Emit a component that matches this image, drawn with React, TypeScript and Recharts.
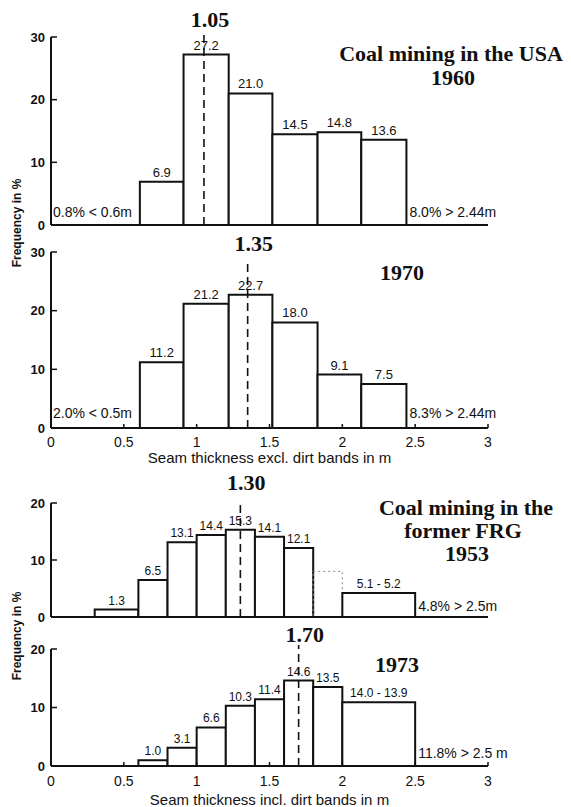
import React from 'react';
import { ComposedChart, Line, XAxis, YAxis, ReferenceArea, ReferenceLine, ReferenceDot } from 'recharts';

const xTicks = [0, 0.5, 1, 1.5, 2, 2.5, 3];
const yTicks30 = [0, 10, 20, 30];
const yTicks20 = [0, 10, 20];

// USA classes are whole feet (2 ft ... 8 ft) shown in metres
const usaEdges = [0.61, 0.91, 1.22, 1.52, 1.83, 2.13, 2.44];
const usa1960Values = [6.9, 27.2, 21.0, 14.5, 14.8, 13.6];
const usa1970Values = [11.2, 21.2, 22.7, 18.0, 9.1, 7.5];

const frg1953Edges = [0.3, 0.6, 0.8, 1.0, 1.2, 1.4, 1.6, 1.8, 2.0, 2.5];
const frg1953Values = [1.3, 6.5, 13.1, 14.4, 15.3, 14.1, 12.1, 8.0, 4.2];
const frg1953Labels = ['1.3', '6.5', '13.1', '14.4', '15.3', '14.1', '12.1', '', '5.1 - 5.2'];
const frg1953Dotted = [false, false, false, false, false, false, false, true, false];

const frg1973Edges = [0.6, 0.8, 1.0, 1.2, 1.4, 1.6, 1.8, 2.0, 2.5];
const frg1973Values = [1.0, 3.1, 6.6, 10.3, 11.4, 14.6, 13.5, 10.9];
const frg1973Labels = ['1.0', '3.1', '6.6', '10.3', '11.4', '14.6', '13.5', '14.0 - 13.9'];

const means = [1.05, 1.35, 1.3, 1.7];
const meanLabels = ['1.05', '1.35', '1.30', '1.70'];

const INK = '#111';
const SANS = '"Liberation Sans", Arial, sans-serif';
const SERIF = '"Liberation Serif", "Times New Roman", serif';

type PanelProps = {
  top: number;
  height: number;
  marginTop: number;
  xAxisHeight: number;
  edges: number[];
  values: number[];
  labels: string[];
  dotted?: boolean[];
  yMax: number;
  yTicks: number[];
  mean: number;
  meanLabel: string;
  meanTop: number;
  meanOffset: number;
  leftNote?: string;
  rightNote: string;
  rightNoteX: number;
  noteY: number;
  barFont: number;
  xTitle?: string;
  tickMargin: number;
  titleOffset: number;
};

const Panel = (p: PanelProps) => {
  // bin midpoints, only used so the chart has data to build its axes from
  const bins = p.values.map((v, i) => ({ x: (p.edges[i] + p.edges[i + 1]) / 2, y: v }));
  const isDotted = (i: number) => !!(p.dotted && p.dotted[i]);
  return (
    <div style={{ position: 'absolute', left: 0, top: p.top }}>
      <ComposedChart width={571} height={p.height} data={bins} margin={{ top: p.marginTop, right: 83, bottom: 0, left: 21 }}>
        <XAxis
          type="number"
          dataKey="x"
          domain={[0, 3]}
          ticks={xTicks}
          height={p.xAxisHeight}
          axisLine={{ stroke: INK, strokeWidth: 2 }}
          tickLine={{ stroke: INK, strokeWidth: 1.5 }}
          tickSize={-4}
          tickMargin={p.tickMargin}
          tick={p.xTitle ? { fontSize: 14, fill: INK, fontFamily: SANS } : false}
          label={p.xTitle ? { value: p.xTitle, position: 'insideBottom', offset: p.titleOffset, fontSize: 15, fill: INK, fontFamily: SANS } : undefined}
        />
        <YAxis
          type="number"
          domain={[0, p.yMax]}
          ticks={p.yTicks}
          width={30}
          axisLine={{ stroke: INK, strokeWidth: 2 }}
          tickLine={{ stroke: INK, strokeWidth: 1.5 }}
          tickSize={-6}
          tickMargin={12}
          tick={{ fontSize: 13, fill: INK, fontFamily: SANS, fontWeight: 'bold' }}
        />
        <Line dataKey="y" stroke="none" dot={false} activeDot={false} legendType="none" isAnimationActive={false} />
        {p.values.map((v, i) => (
          <ReferenceArea
            key={`bar-${i}`}
            x1={p.edges[i]}
            x2={p.edges[i + 1]}
            y1={0}
            y2={v}
            fill="#fff"
            fillOpacity={isDotted(i) ? 0 : 1}
            stroke={isDotted(i) ? '#888' : INK}
            strokeWidth={isDotted(i) ? 1 : 2}
            strokeDasharray={isDotted(i) ? '2 3' : undefined}
            label={p.labels[i] ? { value: p.labels[i], position: 'top', offset: 5, fontSize: p.barFont, fill: INK, fontFamily: SANS } : undefined}
          />
        ))}
        <ReferenceLine
          segment={[{ x: p.mean, y: 0 }, { x: p.mean, y: p.meanTop }]}
          stroke={INK}
          strokeWidth={1.6}
          strokeDasharray="8 5"
          ifOverflow="visible"
          label={{ value: p.meanLabel, position: 'top', offset: p.meanOffset, dx: 6, fontSize: 22, fontWeight: 'bold', fill: INK, fontFamily: SERIF }}
        />
        {p.leftNote && (
          <ReferenceDot
            x={0}
            y={p.noteY}
            r={1}
            fill="none"
            stroke="none"
            label={{ value: p.leftNote, position: 'right', offset: 1, fontSize: 14, fill: INK, fontFamily: SANS }}
          />
        )}
        <ReferenceDot
          x={p.rightNoteX}
          y={p.noteY}
          r={1}
          fill="none"
          stroke="none"
          label={{ value: p.rightNote, position: 'right', offset: 2, fontSize: 14, fill: INK, fontFamily: SANS }}
        />
      </ComposedChart>
    </div>
  );
};

const fmt = (v: number) => v.toFixed(1);

export default function App() {
  return (
    <div style={{ position: 'absolute', left: 0, top: 0, width: 571, height: 807, background: '#fff' }}>
      <Panel
        top={0}
        height={235}
        marginTop={37}
        xAxisHeight={10}
        edges={usaEdges}
        values={usa1960Values}
        labels={usa1960Values.map(fmt)}
        yMax={30}
        yTicks={yTicks30}
        mean={means[0]}
        meanLabel={meanLabels[0]}
        meanTop={30.8}
        meanOffset={5}
        leftNote="0.8% < 0.6m"
        rightNote="8.0% > 2.44m"
        rightNoteX={2.44}
        noteY={2.1}
        barFont={13}
        tickMargin={12}
        titleOffset={0}
      />
      <Panel
        top={220}
        height={250}
        marginTop={32}
        xAxisHeight={42}
        edges={usaEdges}
        values={usa1970Values}
        labels={usa1970Values.map(fmt)}
        yMax={30}
        yTicks={yTicks30}
        mean={means[1]}
        meanLabel={meanLabels[1]}
        meanTop={28.4}
        meanOffset={10}
        leftNote="2.0% < 0.5m"
        rightNote="8.3% > 2.44m"
        rightNoteX={2.44}
        noteY={2.5}
        barFont={13}
        xTitle="Seam thickness excl. dirt bands in m"
        tickMargin={13}
        titleOffset={7}
      />
      <Panel
        top={465}
        height={162}
        marginTop={38}
        xAxisHeight={10}
        edges={frg1953Edges}
        values={frg1953Values}
        labels={frg1953Labels}
        dotted={frg1953Dotted}
        yMax={20}
        yTicks={yTicks20}
        mean={means[2]}
        meanLabel={meanLabels[2]}
        meanTop={20.5}
        meanOffset={10}
        rightNote="4.8% > 2.5m"
        rightNoteX={2.5}
        noteY={1.9}
        barFont={12}
        tickMargin={12}
        titleOffset={0}
      />
      <Panel
        top={620}
        height={187}
        marginTop={29}
        xAxisHeight={41}
        edges={frg1973Edges}
        values={frg1973Values}
        labels={frg1973Labels}
        yMax={20}
        yTicks={yTicks20}
        mean={means[3]}
        meanLabel={meanLabels[3]}
        meanTop={20.7}
        meanOffset={3}
        rightNote="11.8% > 2.5 m"
        rightNoteX={2.5}
        noteY={2.2}
        barFont={12}
        xTitle="Seam thickness incl. dirt bands in m"
        tickMargin={14}
        titleOffset={2}
      />
      <svg width={571} height={807} style={{ position: 'absolute', left: 0, top: 0, pointerEvents: 'none' }}>
        <g fontFamily={SERIF} fontWeight="bold" fontSize={22} fill={INK} textAnchor="middle">
          <text x={451} y={61}>Coal mining in the USA</text>
          <text x={453} y={85}>1960</text>
          <text x={402} y={280}>1970</text>
          <text x={466} y={515}>Coal mining in the</text>
          <text x={463} y={538}>former FRG</text>
          <text x={467} y={561}>1953</text>
          <text x={397} y={672}>1973</text>
        </g>
        <g fontFamily={SANS} fontWeight="bold" fontSize={12} fill={INK} textAnchor="middle">
          <text x={21} y={223} transform="rotate(-90 21 223)">Frequency in %</text>
          <text x={21} y={636} transform="rotate(-90 21 636)">Frequency in %</text>
        </g>
      </svg>
    </div>
  );
}
